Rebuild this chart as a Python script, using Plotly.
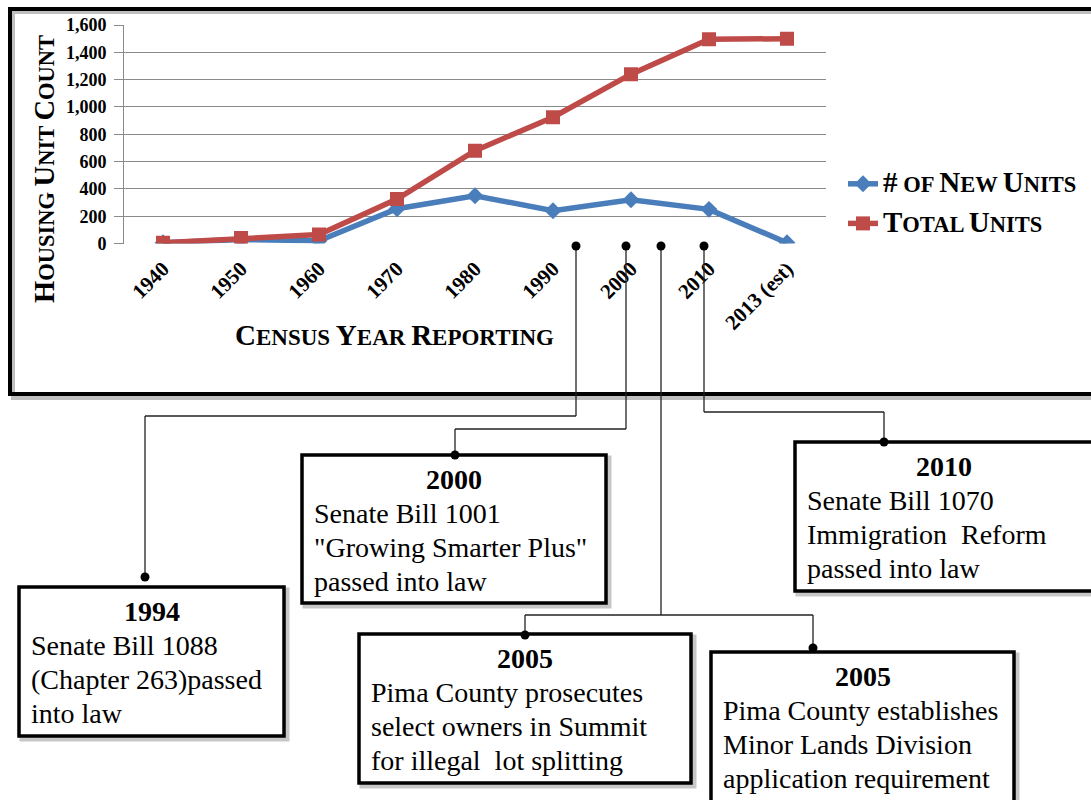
import plotly.graph_objects as go

# ---------------- data ----------------
census_years = ["1940", "1950", "1960", "1970", "1980", "1990", "2000", "2010", "2013 (est)"]
new_units = [5, 30, 20, 255, 350, 240, 320, 250, 5]
total_units = [5, 40, 65, 325, 680, 925, 1240, 1495, 1500]
y_ticks = [0, 200, 400, 600, 800, 1000, 1200, 1400, 1600]

event_years = ["1994", "2000", "2005", "2005", "2010"]
event_lines = [
    ["Senate Bill 1088", "(Chapter 263)passed", "into law"],
    ["Senate Bill 1001", "\"Growing Smarter Plus\"", "passed into law"],
    ["Pima County prosecutes", "select owners in Summit", "for illegal  lot splitting"],
    ["Pima County establishes", "Minor Lands Division", "application requirement"],
    ["Senate Bill 1070", "Immigration  Reform", "passed into law"],
]

# ---------------- layout geometry (pixels) ----------------
W, H = 1091, 800
FONT = "Liberation Serif, Times New Roman, serif"
BLUE = "#4A7EBB"
RED = "#BE4B48"

box_rects = [(19, 587, 284, 736), (302, 455, 606, 603), (359, 634, 691, 783),
             (711, 652, 1014, 806), (795, 442, 1093, 591)]
connectors = [
    [(576, 246), (576, 416), (145, 416), (145, 577)],
    [(626, 246), (626, 429), (455, 429), (455, 455)],
    [(661, 246), (661, 615)],
    [(525, 615), (813, 615)],
    [(525, 615), (525, 635)],
    [(813, 615), (813, 648)],
    [(704, 246), (704, 412), (884, 412), (884, 442)],
]
dots = [(576, 246), (626, 246), (661, 246), (704, 246),
        (145, 577), (455, 455), (525, 635), (813, 648), (884, 442)]


def px(x):
    return x / W


def py(y):
    return 1 - y / H


def smallcaps(text, big, small):
    out = ""
    for ch in text:
        if ch.islower():
            out += ch.upper()
        elif ch == " ":
            out += " "
        else:
            out += f"<span style='font-size:{big}px'>{ch}</span>"
    return f"<span style='font-size:{small}px'>{out}</span>"


fig = go.Figure()
fig.add_trace(go.Scatter(
    x=census_years, y=new_units, mode="lines+markers",
    name=smallcaps("# of New Units", 29, 22.5),
    line=dict(color=BLUE, width=5.5),
    marker=dict(symbol="diamond", size=13, color=BLUE),
    legendgroup="a",
))
fig.add_trace(go.Scatter(
    x=census_years, y=total_units, mode="lines+markers",
    name=smallcaps("Total Units", 29, 22.5),
    line=dict(color=RED, width=5.5),
    marker=dict(symbol="square", size=14, color=RED),
    legendgroup="b",
))

shapes = []
annotations = []

# chart frame with shadow
shapes.append(dict(type="rect", xref="paper", yref="paper",
                   x0=px(13), x1=px(1099), y0=py(12), y1=py(398),
                   line=dict(color="rgba(0,0,0,0.25)", width=4), layer="below"))
shapes.append(dict(type="rect", xref="paper", yref="paper",
                   x0=px(10), x1=px(1096), y0=py(9), y1=py(394),
                   line=dict(color="black", width=4), layer="below"))

# connectors
for path in connectors:
    for (x0, y0), (x1, y1) in zip(path[:-1], path[1:]):
        shapes.append(dict(type="line", xref="paper", yref="paper",
                           x0=px(x0), x1=px(x1), y0=py(y0), y1=py(y1),
                           line=dict(color="#222", width=1.3)))

# boxes
for (l, t, r, b), yr, lines in zip(box_rects, event_years, event_lines):
    shapes.append(dict(type="rect", xref="paper", yref="paper",
                       x0=px(l + 3), x1=px(r + 3), y0=py(t + 3), y1=py(b + 3),
                       line=dict(color="rgba(0,0,0,0.22)", width=5)))
    shapes.append(dict(type="rect", xref="paper", yref="paper",
                       x0=px(l), x1=px(r), y0=py(t), y1=py(b),
                       fillcolor="white", line=dict(color="black", width=3.5)))
    annotations.append(dict(xref="paper", yref="paper", x=px((l + r) / 2), y=py(t + 24),
                            text=f"<b>{yr}</b>", showarrow=False,
                            xanchor="center", yanchor="middle",
                            font=dict(family=FONT, size=28, color="black")))
    for i, ln in enumerate(lines):
        annotations.append(dict(xref="paper", yref="paper", x=px(l + 10), y=py(t + 58 + 34 * i),
                                text=ln, showarrow=False,
                                xanchor="left", yanchor="middle",
                                font=dict(family=FONT, size=28, color="black")))

# dots
r = 4.5
for cx, cy in dots:
    shapes.append(dict(type="circle", xref="paper", yref="paper",
                       x0=px(cx - r), x1=px(cx + r), y0=py(cy - r), y1=py(cy + r),
                       fillcolor="black", line=dict(color="black", width=0)))

# axis titles
annotations.append(dict(xref="paper", yref="paper", x=px(45), y=py(169),
                        text=smallcaps("Housing Unit Count", 28.5, 22.5), textangle=-90,
                        showarrow=False, xanchor="center", yanchor="middle",
                        font=dict(family=FONT, size=22.5, color="black", weight="bold")))
annotations.append(dict(xref="paper", yref="paper", x=px(394), y=py(335),
                        text=smallcaps("Census Year Reporting", 29, 23),
                        showarrow=False, xanchor="center", yanchor="middle",
                        font=dict(family=FONT, size=23, color="black", weight="bold")))

fig.update_layout(
    width=W, height=H,
    margin=dict(l=0, r=0, t=0, b=0, pad=0, autoexpand=False),
    paper_bgcolor="white", plot_bgcolor="white",
    shapes=shapes, annotations=annotations,
    showlegend=True,
    legend=dict(x=px(843), y=py(163), xanchor="left", yanchor="top",
                font=dict(family=FONT, size=22, color="black", weight="bold"),
                bgcolor="rgba(0,0,0,0)", tracegroupgap=8, itemwidth=30),
    xaxis=dict(domain=[px(124), px(826)], type="category", range=[-0.5, 8.5],
               automargin=False,
               showgrid=False, showline=False, zeroline=False, ticks="",
               ticklabelstandoff=8,
               tickangle=-45, tickfont=dict(family=FONT, size=21, color="black", weight="bold")),
    yaxis=dict(domain=[py(243.5), py(25)], range=[0, 1600], tickvals=y_ticks,
               automargin=False,
               tickformat=",d", showgrid=True, gridcolor="#8a8a8a", gridwidth=1,
               showline=True, linecolor="#8a8a8a", linewidth=1, zeroline=False,
               ticks="outside", ticklen=9, tickcolor="#8a8a8a",
               ticklabelstandoff=4,
               tickfont=dict(family=FONT, size=18, color="black", weight="bold")),
)

fig.write_html("out.html")
